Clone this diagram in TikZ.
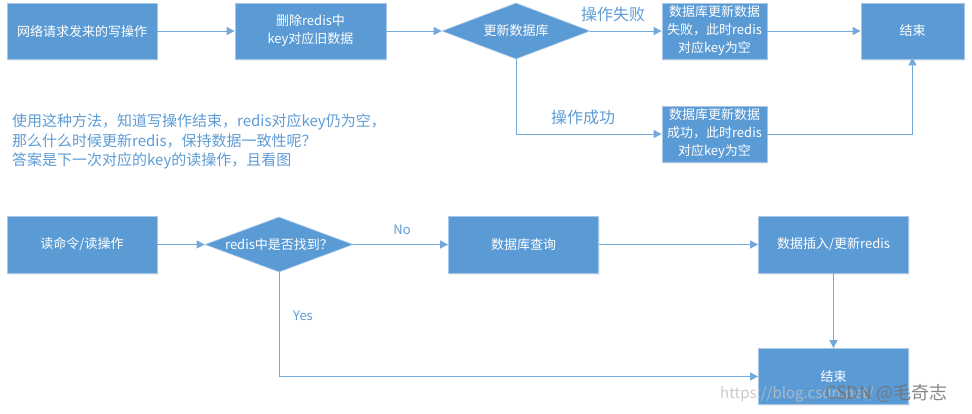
\documentclass[tikz,border=0pt]{standalone}
\usepackage{fontspec}
\setmainfont{Noto Sans CJK SC}
\usetikzlibrary{arrows.meta,shapes.geometric,shadows}
\definecolor{boxblue}{HTML}{5B9BD5}
\definecolor{boxedge}{HTML}{A9C8E8}
\definecolor{linecol}{HTML}{74A9DC}
\definecolor{txtblue}{HTML}{5E9CD6}
\tikzset{
  box/.style={rectangle, fill=boxblue, draw=boxedge, line width=0.8pt, text=white,
    font=\fontsize{13}{18}\selectfont, align=center, inner sep=0pt,
    drop shadow={opacity=0.12, shadow xshift=1pt, shadow yshift=-1.5pt}},
  dia/.style={diamond, aspect=2.64, fill=boxblue, draw=boxedge, line width=0.6pt, text=white,
    font=\fontsize{13}{16}\selectfont, inner sep=0pt},
  arr/.style={draw=linecol, line width=1pt, -{Triangle[length=8pt,width=8pt]}, color=linecol},
  lbl/.style={text=txtblue, inner sep=0pt}
}
\begin{document}
\begin{tikzpicture}[x=1pt,y=-1pt]
\useasboundingbox[fill=white] (0,0) rectangle (972,413);

% top flow
\node[box, minimum width=150pt, minimum height=56pt] (b1) at (82,31) {网络请求发来的写操作};
\node[box, minimum width=151pt, minimum height=56pt] (b2) at (310.5,31) {删除redis中\\key对应旧数据};
\node[dia, minimum width=148pt, minimum height=56pt] (d1) at (516,31) {更新数据库};
\node[box, minimum width=105pt, minimum height=56pt] (b3) at (714.5,31) {数据库更新数据\\失败，此时redis\\对应key为空};
\node[box, minimum width=103pt, minimum height=56pt] (e1) at (912.5,31) {结束};
\node[box, minimum width=105pt, minimum height=56pt] (b5) at (714.5,134) {数据库更新数据\\成功，此时redis\\对应key为空};

\draw[arr] (b1) -- (b2);
\draw[arr] (b2) -- (d1);
\draw[arr] (d1) -- (b3);
\draw[arr] (b3) -- (e1);
\draw[arr] (d1.south) |- (b5.west);
\draw[arr] (b5.east) -| ([yshift=2pt]e1.south);

\node[lbl, font=\fontsize{16}{18}\selectfont] (l1) at (613,14) {操作失败};
\node[lbl, font=\fontsize{16}{18}\selectfont] (l2) at (583,117) {操作成功};

\node[lbl, anchor=north west, align=left, font=\fontsize{15}{19.5}\selectfont] (note) at (12,114)
  {使用这种方法，知道写操作结束，redis对应key仍为空，\\那么什么时候更新redis，保持数据一致性呢？\\答案是下一次对应的key的读操作，且看图};

% bottom flow
\node[box, minimum width=150pt, minimum height=57pt] (b6) at (82,244.5) {读命令/读操作};
\node[dia, minimum width=148pt, minimum height=55pt] (d2) at (279,244.5) {redis中是否找到？};
\node[box, minimum width=150pt, minimum height=57pt] (b7) at (523.5,244.5) {数据库查询};
\node[box, minimum width=150pt, minimum height=57pt] (b8) at (833.5,244.5) {数据插入/更新redis};
\node[box, minimum width=150pt, minimum height=56pt] (b9) at (833.5,376.5) {结束};

\draw[arr] (b6) -- (d2);
\draw[arr] (d2) -- (b7);
\draw[arr] (b7) -- (b8);
\draw[arr] (b8) -- (b9);
\draw[arr] (d2.south) |- (b9.west);

\node[lbl, font=\fontsize{13}{15}\selectfont] (no) at (402,230) {No};
\node[lbl, font=\fontsize{13}{15}\selectfont] (yes) at (303,316) {Yes};

% watermark
\node[text=black!25, opacity=0.8, anchor=west, inner sep=0pt, font=\fontsize{15}{17}\selectfont] (url) at (720,394) {https://blog.csdn.net/};
\node[text=black!55, opacity=0.85, anchor=west, inner sep=0pt, font=\fontsize{18}{20}\selectfont] (wm) at (825,393) {CSDN @毛奇志};
\end{tikzpicture}
\end{document}
